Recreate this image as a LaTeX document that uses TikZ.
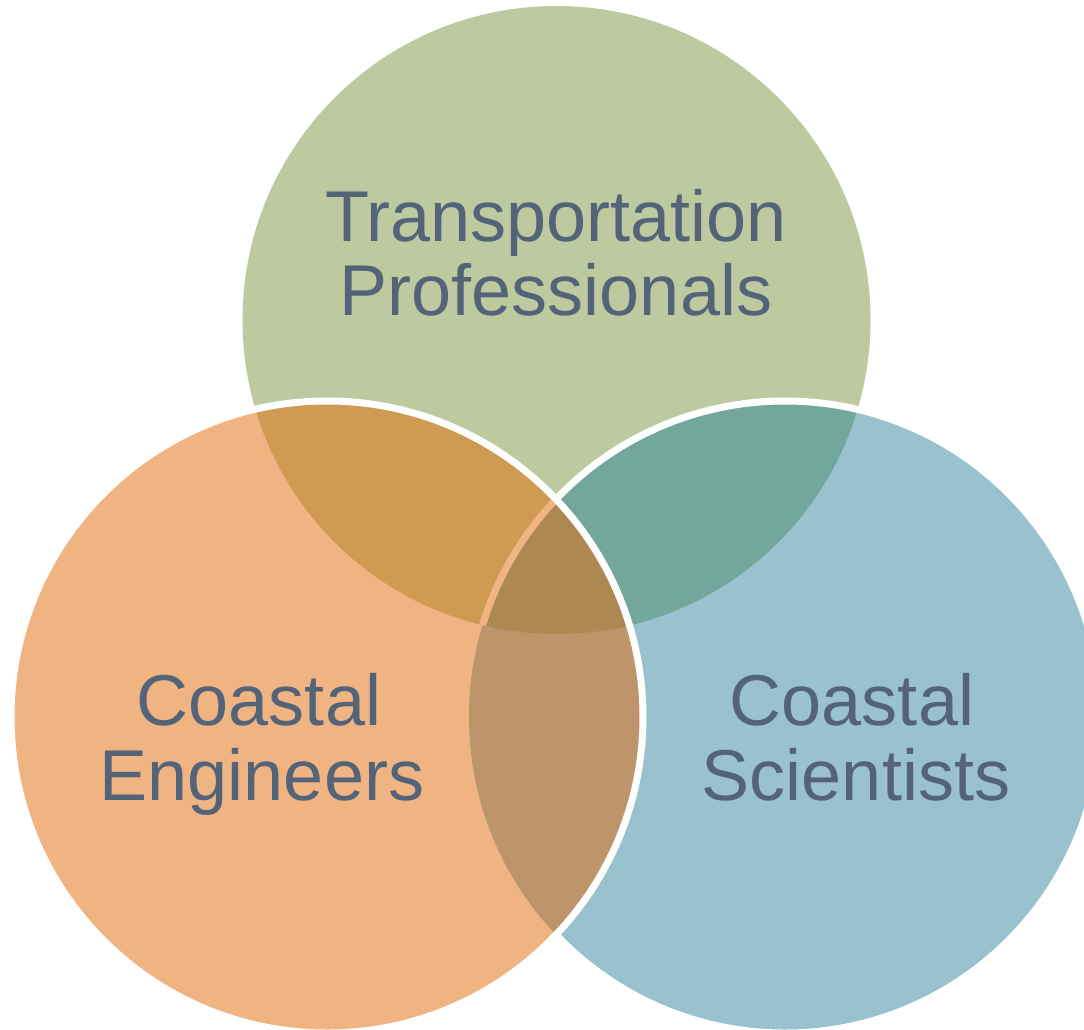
\documentclass[tikz,border=0pt]{standalone}
\usepackage{fontspec}
\setmainfont{Liberation Sans}
\definecolor{vgreen}{HTML}{BDC99E}
\definecolor{vorange}{HTML}{F0B483}
\definecolor{vblue}{HTML}{99C1CE}
\definecolor{vgo}{HTML}{CF9A52}
\definecolor{vgb}{HTML}{74A79C}
\definecolor{vob}{HTML}{BE956B}
\definecolor{vall}{HTML}{AD8852}
\definecolor{vtext}{HTML}{536378}
\begin{document}
\begin{tikzpicture}[x=0.5pt,y=-0.5pt,
  settext/.style={text=vtext, font=\fontsize{36pt}{36pt}\selectfont, anchor=base, inner sep=0pt},
  rim/.style={line width=3.5pt}]
\useasboundingbox (0,0) rectangle (1084,1030);
\clip (0,0) rectangle (1084,1030);
\def\RG{157pt}
\def\RC{158pt}
% circle centres
\coordinate (cG) at (556.5,320);
\coordinate (cO) at (327,717);
\coordinate (cB) at (785,717);
% single-set fills
\fill[vgreen] (cG) circle[radius=\RG];
\fill[vorange] (cO) circle[radius=\RC];
\fill[vblue] (cB) circle[radius=\RC];
% pairwise overlaps
\begin{scope}
  \clip (cG) circle[radius=\RG];
  \fill[vgo] (cO) circle[radius=\RC];
\end{scope}
\begin{scope}
  \clip (cG) circle[radius=\RG];
  \fill[vgb] (cB) circle[radius=\RC];
\end{scope}
\begin{scope}
  \clip (cO) circle[radius=\RC];
  \fill[vob] (cB) circle[radius=\RC];
\end{scope}
% triple overlap
\begin{scope}
  \clip (cG) circle[radius=\RG];
  \clip (cO) circle[radius=\RC];
  \fill[vall] (cB) circle[radius=\RC];
\end{scope}
% blue outline: white outside the orange circle
\begin{scope}[even odd rule]
  \clip (0,0) rectangle (1084,1030) (cO) circle[radius=\RC];
  \draw[rim, white] (cB) circle[radius=\RC];
\end{scope}
% blue outline seen through orange, inside the green circle
\begin{scope}
  \clip (cO) circle[radius=\RC];
  \clip (cG) circle[radius=\RG];
  \draw[rim, vorange] (cB) circle[radius=\RC];
\end{scope}
% orange outline on top
\draw[rim, white] (cO) circle[radius=\RC];
% labels
\node[settext] (tp1) at (556,241) {Transportation};
\node[settext] (tp2) at (556,315) {Professionals};
\node[settext] (ce1) at (259,725) {Coastal};
\node[settext] (ce2) at (262,800) {Engineers};
\node[settext] (cs1) at (852,725) {Coastal};
\node[settext] (cs2) at (856,800) {Scientists};
\end{tikzpicture}
\end{document}
